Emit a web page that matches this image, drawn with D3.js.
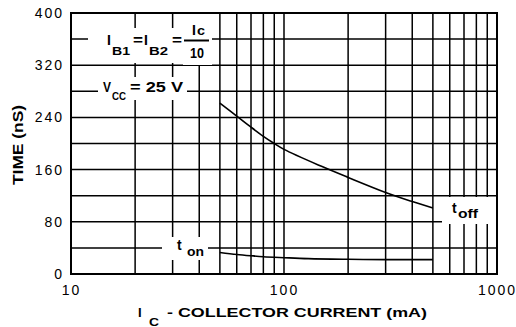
<!doctype html>
<html>
<head>
<script src="https://cdnjs.cloudflare.com/ajax/libs/d3/7.8.5/d3.min.js"></script>
<style>
  body { margin: 0; background: #fff; }
  svg { display: block; font-family: "Liberation Sans", Arial, sans-serif; }
  .grid line { stroke: #000; stroke-width: 1.5; }
  .tick text { font-size: 14px; fill: #000; letter-spacing: 2px; }
  .lbl { font-weight: bold; fill: #000; }
  .curve { fill: none; stroke: #000; stroke-width: 1.6; }
</style>
</head>
<body>
<svg width="516" height="327"></svg>
<script>
// values
var toffCurrent = [50, 60, 70, 80, 90, 100, 150, 200, 300, 400, 500];
var toffTime    = [262, 242, 225, 211, 200, 191, 165, 148, 125, 111, 101];
var tonCurrent  = [50, 60, 70, 80, 100, 130, 200, 300, 500];
var tonTime     = [33, 30, 28, 26.5, 25, 23.5, 22.5, 22, 22];

var xGrid   = [20, 30, 40, 50, 60, 70, 80, 90, 100, 200, 300, 400, 500, 600, 700, 800, 900];
var xLabels = [10, 100, 1000];
var yGrid   = [40, 80, 120, 160, 200, 240, 280, 320, 360];
var yLabels = [0, 80, 160, 240, 320, 400];

var m = {left: 71, top: 13, right: 497, bottom: 274};
var svg = d3.select("svg");

var x = d3.scaleLog().domain([10, 1000]).range([m.left, m.right]);
var y = d3.scaleLinear().domain([0, 400]).range([m.bottom, m.top]);

// grid
var grid = svg.append("g").attr("class", "grid");
grid.selectAll("line.v").data(xGrid).enter().append("line")
    .attr("x1", d => x(d)).attr("x2", d => x(d))
    .attr("y1", m.top).attr("y2", m.bottom);
grid.selectAll("line.h").data(yGrid).enter().append("line")
    .attr("y1", d => y(d)).attr("y2", d => y(d))
    .attr("x1", m.left).attr("x2", m.right);

// white patches behind the labels (they break the grid)
var holes = [[88, 28, 124, 35], [183, 14, 29, 51], [98, 77, 89, 23], [162, 237, 46, 23], [442, 197, 54, 27]];
svg.selectAll("rect.hole").data(holes).enter().append("rect")
    .attr("x", d => d[0]).attr("y", d => d[1])
    .attr("width", d => d[2]).attr("height", d => d[3])
    .attr("fill", "#fff");

// frame
svg.append("rect")
    .attr("x", m.left).attr("y", m.top)
    .attr("width", m.right - m.left).attr("height", m.bottom - m.top)
    .attr("fill", "none").attr("stroke", "#000").attr("stroke-width", 2);

// axes (labels only)
var yAxis = svg.append("g").attr("transform", "translate(" + m.left + ",0)")
    .call(d3.axisLeft(y).tickValues(yLabels).tickSize(0).tickPadding(7));
yAxis.select(".domain").remove();

var xAxis = svg.append("g").attr("transform", "translate(0," + m.bottom + ")")
    .call(d3.axisBottom(x).tickValues(xLabels).tickFormat(d3.format("d")).tickSize(0).tickPadding(11));
xAxis.select(".domain").remove();
svg.selectAll(".tick text").attr("font-family", null).attr("font-size", null);

// curves
var line = d3.line().x(d => x(d[0])).y(d => y(d[1])).curve(d3.curveCatmullRom);
svg.append("path").attr("class", "curve")
    .attr("d", line(d3.zip(toffCurrent, toffTime)));
svg.append("path").attr("class", "curve")
    .attr("d", line(d3.zip(tonCurrent, tonTime)));

// texts
function txt(s, px, py, size, len) {
  var t = svg.append("text").attr("class", "lbl")
      .attr("x", px).attr("y", py)
      .style("font-size", size + "px").text(s);
  if (len) t.attr("textLength", len).attr("lengthAdjust", "spacingAndGlyphs");
  return t;
}

txt("I", 107, 45, 14);
txt("B1", 112, 55, 11, 18);
txt("=", 133, 45, 14, 10);
txt("I", 144, 45, 14);
txt("B2", 149, 55, 11, 19);
txt("=", 172, 45, 14, 10);
svg.append("line").attr("x1", 184).attr("x2", 209).attr("y1", 40.5).attr("y2", 40.5)
    .attr("stroke", "#000").attr("stroke-width", 2);
txt("I", 192, 35, 14);
txt("c", 197, 35, 12, 8);
txt("10", 190, 58, 14, 14);

txt("V", 103, 92, 14, 8);
txt("CC", 112, 100, 11, 14);
txt("= 25 V", 130, 92, 14, 53);

txt("t", 177, 250, 14);
txt("on", 187, 256, 13, 17);

txt("t", 452, 213, 14);
txt("off", 458, 218, 13, 20);

// axis titles
txt("TIME (nS)", 0, 0, 14, 80)
    .attr("text-anchor", "middle")
    .attr("transform", "translate(23,145) rotate(-90)");
txt("I", 138, 317, 13);
txt("C", 149, 326, 11, 10);
txt("- COLLECTOR CURRENT (mA)", 167, 317, 13, 260);
</script>
</body>
</html>
